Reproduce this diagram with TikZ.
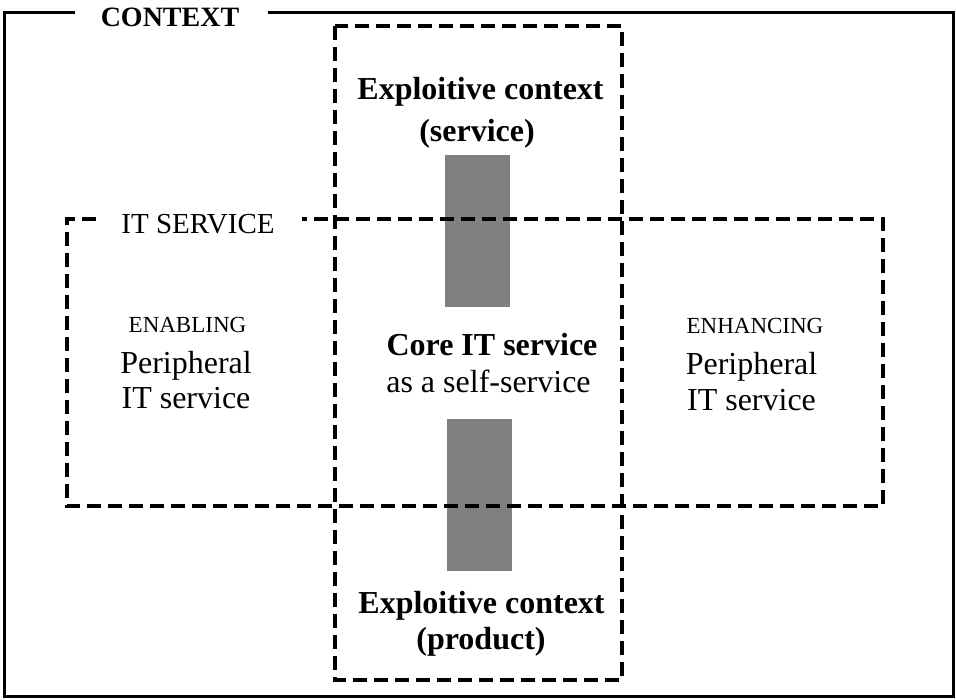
\documentclass[tikz,border=0pt]{standalone}
\usepackage{fontspec}
\setmainfont{Liberation Serif}
\tikzset{
  frame/.style={line width=3pt, black},
  dbox/.style={line width=4pt, black, dash pattern=on 14pt off 7pt},
  grayblock/.style={fill=black!50, draw=none},
  big/.style={font=\fontsize{32}{38}\selectfont, inner sep=0pt, anchor=base},
  bigb/.style={font=\fontsize{32}{38}\selectfont\bfseries, inner sep=0pt, anchor=base},
  small/.style={font=\fontsize{23}{27}\selectfont, inner sep=0pt, anchor=base},
  mid/.style={font=\fontsize{29}{34}\selectfont, inner sep=0pt, anchor=base},
  title/.style={font=\fontsize{28}{32}\selectfont\bfseries, inner sep=0pt, anchor=base}
}
\begin{document}
\begin{tikzpicture}[x=1pt,y=-1pt]
\useasboundingbox (0,0) rectangle (956,699);
% gray blocks
\fill[grayblock] (445,155) rectangle (510,307);
\fill[grayblock] (447,419) rectangle (512,571);
% outer frame with gap for title
\draw[frame] (75,12.5) -- (4.5,12.5) -- (4.5,696) -- (953,696) -- (953,12.5) -- (268,12.5);
% tall dashed box
\draw[dbox] (335,26) rectangle (622,680);
% wide dashed box, gap for label
\draw[dbox] (96,219) -- (67,219) -- (67,506) -- (883,506) -- (883,219) -- (302,219);
% texts
\node[title] (ctx) at (170,26) {CONTEXT};
\node[mid] (its) at (198,233) {IT SERVICE};
\node[bigb] (ex1) at (480.5,99) {Exploitive context};
\node[bigb] (ex2) at (477,141) {(service)};
\node[bigb] (core1) at (492,355) {Core IT service};
\node[big] (core2) at (488.5,392) {as a self-service};
\node[bigb] (ep1) at (481.5,613) {Exploitive context};
\node[bigb] (ep2) at (481,649) {(product)};
\node[small] (en1) at (187.5,332) {ENABLING};
\node[big] (en2) at (186,373) {Peripheral};
\node[big] (en3) at (186,408) {IT service};
\node[small] (eh1) at (755,333) {ENHANCING};
\node[big] (eh2) at (751.5,374) {Peripheral};
\node[big] (eh3) at (751.5,410) {IT service};
\end{tikzpicture}
\end{document}
